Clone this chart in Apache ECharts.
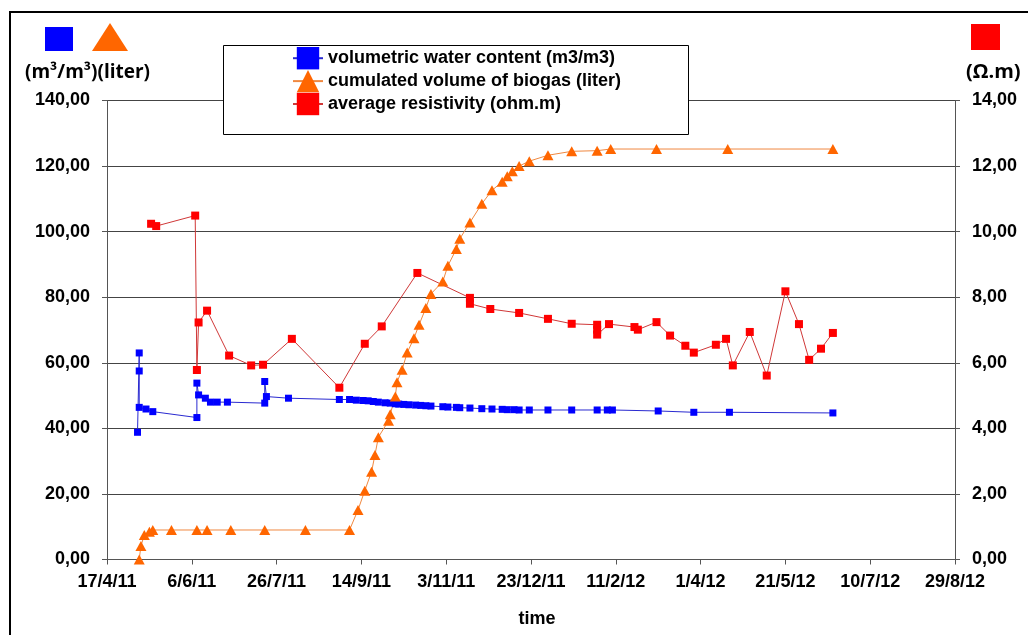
<!DOCTYPE html>
<html>
<head>
<meta charset="utf-8">
<script src="https://cdn.jsdelivr.net/npm/echarts@6/dist/echarts.min.js"></script>
<style>
  html, body { margin: 0; padding: 0; background: #fff; }
  #chart { width: 1028px; height: 635px; }
</style>
</head>
<body>
<div id="chart"></div>
<script>
// ---- data ----
const startDate = '2011-04-17';
const xTickLabels = ['17/4/11', '6/6/11', '26/7/11', '14/9/11', '3/11/11', '23/12/11', '11/2/12', '1/4/12', '21/5/12', '10/7/12', '29/8/12'];

const waterDates = ['2011-05-05', '2011-05-06', '2011-05-06', '2011-05-06', '2011-05-10', '2011-05-14', '2011-06-09', '2011-06-09', '2011-06-10', '2011-06-14', '2011-06-17', '2011-06-21', '2011-06-27', '2011-07-19', '2011-07-19', '2011-07-20', '2011-08-02', '2011-09-01', '2011-09-07', '2011-09-11', '2011-09-15', '2011-09-18', '2011-09-21', '2011-09-24', '2011-09-28', '2011-10-01', '2011-10-04', '2011-10-06', '2011-10-09', '2011-10-12', '2011-10-16', '2011-10-19', '2011-10-22', '2011-10-25', '2011-11-01', '2011-11-04', '2011-11-09', '2011-11-11', '2011-11-17', '2011-11-24', '2011-11-30', '2011-12-06', '2011-12-09', '2011-12-13', '2011-12-16', '2011-12-22', '2012-01-02', '2012-01-16', '2012-01-31', '2012-02-06', '2012-02-09', '2012-03-07', '2012-03-28', '2012-04-18', '2012-06-18'];
const waterValues = [38.8, 63.0, 57.5, 46.4, 45.9, 45.1, 43.3, 53.8, 50.2, 49.2, 48.0, 48.0, 48.0, 47.7, 54.3, 49.7, 49.2, 48.8, 48.8, 48.6, 48.5, 48.4, 48.2, 48.0, 47.8, 47.7, 47.5, 47.4, 47.3, 47.2, 47.1, 47.0, 46.9, 46.8, 46.6, 46.5, 46.4, 46.3, 46.2, 46.0, 45.9, 45.8, 45.7, 45.7, 45.6, 45.6, 45.6, 45.6, 45.6, 45.6, 45.6, 45.3, 44.9, 44.9, 44.7];

const biogasDates = ['2011-05-06', '2011-05-07', '2011-05-09', '2011-05-12', '2011-05-14', '2011-05-25', '2011-06-09', '2011-06-15', '2011-06-29', '2011-07-19', '2011-08-12', '2011-09-07', '2011-09-12', '2011-09-16', '2011-09-20', '2011-09-22', '2011-09-24', '2011-09-30', '2011-10-01', '2011-10-04', '2011-10-05', '2011-10-08', '2011-10-11', '2011-10-15', '2011-10-18', '2011-10-22', '2011-10-25', '2011-11-01', '2011-11-04', '2011-11-09', '2011-11-11', '2011-11-17', '2011-11-24', '2011-11-30', '2011-12-06', '2011-12-09', '2011-12-12', '2011-12-16', '2011-12-22', '2012-01-02', '2012-01-16', '2012-01-31', '2012-02-08', '2012-03-06', '2012-04-17', '2012-06-18'];
const biogasValues = [0, 4.1, 7.5, 8.5, 9, 9, 9, 9, 9, 9, 9, 9, 15.1, 21.0, 26.8, 31.9, 37.3, 42.3, 44.3, 49.7, 54.1, 57.9, 63.1, 67.5, 71.6, 76.7, 81.0, 84.8, 89.6, 94.7, 97.8, 102.8, 108.5, 112.6, 115.2, 116.9, 118.4, 120.0, 121.5, 123.3, 124.5, 124.7, 125.2, 125.2, 125.2, 125.2];

const resistDates = ['2011-05-13', '2011-05-16', '2011-06-08', '2011-06-09', '2011-06-10', '2011-06-15', '2011-06-28', '2011-07-11', '2011-07-18', '2011-08-04', '2011-09-01', '2011-09-16', '2011-09-26', '2011-10-17', '2011-11-17', '2011-11-17', '2011-11-29', '2011-12-16', '2012-01-02', '2012-01-16', '2012-01-31', '2012-01-31', '2012-01-31', '2012-02-07', '2012-02-22', '2012-02-24', '2012-03-06', '2012-03-14', '2012-03-23', '2012-03-28', '2012-04-10', '2012-04-16', '2012-04-20', '2012-04-30', '2012-05-10', '2012-05-21', '2012-05-29', '2012-06-04', '2012-06-11', '2012-06-18'];
const resistValues = [10.24, 10.17, 10.49, 5.78, 7.23, 7.59, 6.22, 5.92, 5.94, 6.73, 5.24, 6.58, 7.11, 8.74, 7.98, 7.80, 7.64, 7.52, 7.34, 7.19, 7.16, 7.01, 6.86, 7.18, 7.09, 7.01, 7.24, 6.83, 6.52, 6.31, 6.55, 6.73, 5.92, 6.94, 5.61, 8.18, 7.18, 6.09, 6.43, 6.91];

// ---- helpers ----
const DAY = 86400000;
const t0 = Date.parse(startDate);
function toDay(s) { return (Date.parse(s) - t0) / DAY; }
function pairs(dates, vals) { return dates.map((d, i) => [toDay(d), vals[i]]); }
function comma(v) { return v.toFixed(2).replace('.', ','); }

const FONT = '"Liberation Sans", Arial, sans-serif';
const chart = echarts.init(document.getElementById('chart'), null, { renderer: 'canvas' });

chart.setOption({
  animation: false,
  backgroundColor: '#fff',
  grid: { left: 107, right: 73, top: 100.5, bottom: 75.5, containLabel: false },
  legend: {
    orient: 'vertical',
    left: 292,
    top: 47,
    padding: 0,
    itemWidth: 30,
    itemHeight: 28,
    itemGap: 0.5,
    textStyle: { fontFamily: FONT, fontWeight: 'bold', fontSize: 18, color: '#000' },
    data: ['volumetric water content (m3/m3)', 'cumulated volume of biogas (liter)', 'average resistivity (ohm.m)'],
    z: 10
  },
  xAxis: {
    type: 'value',
    min: 0, max: 500, interval: 50,
    name: 'time',
    nameLocation: 'middle',
    nameGap: 51,
    nameTextStyle: { fontFamily: FONT, fontWeight: 'bold', fontSize: 18, color: '#000', padding: [0, 0, 0, 12] },
    axisLine: { lineStyle: { color: '#555', width: 1 } },
    axisTick: { show: true, length: 5, lineStyle: { color: '#555' } },
    axisLabel: {
      margin: 14,
      fontFamily: FONT, fontWeight: 'bold', fontSize: 18, color: '#000',
      formatter: v => xTickLabels[Math.round(v / 50)]
    },
    splitLine: { show: false }
  },
  yAxis: [
    {
      type: 'value', min: 0, max: 140, interval: 20,
      axisLine: { show: true, lineStyle: { color: '#555', width: 1 } },
      axisTick: { show: true, length: 5, lineStyle: { color: '#555' } },
      axisLabel: { margin: 17, fontFamily: FONT, fontWeight: 'bold', fontSize: 18, color: '#000', formatter: comma },
      splitLine: { show: true, lineStyle: { color: '#444', width: 1 } }
    },
    {
      type: 'value', min: 0, max: 14, interval: 2, position: 'right',
      axisLine: { show: true, lineStyle: { color: '#555', width: 1 } },
      axisTick: { show: true, length: 5, lineStyle: { color: '#555' } },
      axisLabel: { margin: 17, fontFamily: FONT, fontWeight: 'bold', fontSize: 18, color: '#000', formatter: comma },
      splitLine: { show: false }
    }
  ],
  graphic: [
    { type: 'rect', z: 100, silent: true, shape: { x: 10, y: 12, width: 1040, height: 660 }, style: { fill: 'none', stroke: '#000', lineWidth: 2 } },
    { type: 'rect', z: 3, silent: true, shape: { x: 223.5, y: 45.5, width: 465, height: 89 }, style: { fill: '#fff', stroke: '#000', lineWidth: 1 } },
    { type: 'rect', silent: true, shape: { x: 45, y: 27, width: 28, height: 24 }, style: { fill: '#0000ff' } },
    { type: 'polygon', silent: true, shape: { points: [[92, 51], [110, 23], [128, 51]] }, style: { fill: '#ff6600' } },
    { type: 'rect', silent: true, shape: { x: 971, y: 24, width: 29, height: 26 }, style: { fill: '#ff0000' } },
    { type: 'text', silent: true, left: 25, top: 63, style: { text: '(m³/m³)(liter)', font: 'bold 19px "Open Sans", sans-serif', fill: '#000' } },
    { type: 'text', silent: true, left: 966, top: 62, style: { text: '(Ω.m)', font: 'bold 20px "Open Sans", sans-serif', fill: '#000' } }
  ],
  series: [
    {
      name: 'volumetric water content (m3/m3)',
      type: 'line', yAxisIndex: 0,
      data: pairs(waterDates, waterValues),
      symbol: 'rect', symbolSize: 7, showAllSymbol: true,
      itemStyle: { color: '#0000ff' },
      lineStyle: { color: '#2a2ad0', width: 1 }
    },
    {
      name: 'cumulated volume of biogas (liter)',
      type: 'line', yAxisIndex: 0,
      data: pairs(biogasDates, biogasValues),
      symbol: 'triangle', symbolSize: [11, 10], showAllSymbol: true,
      itemStyle: { color: '#ff6600' },
      lineStyle: { color: '#f08840', width: 1 }
    },
    {
      name: 'average resistivity (ohm.m)',
      type: 'line', yAxisIndex: 1,
      data: pairs(resistDates, resistValues),
      symbol: 'rect', symbolSize: 8, showAllSymbol: true,
      itemStyle: { color: '#ff0000' },
      lineStyle: { color: '#d03838', width: 1 }
    }
  ]
});
</script>
</body>
</html>
